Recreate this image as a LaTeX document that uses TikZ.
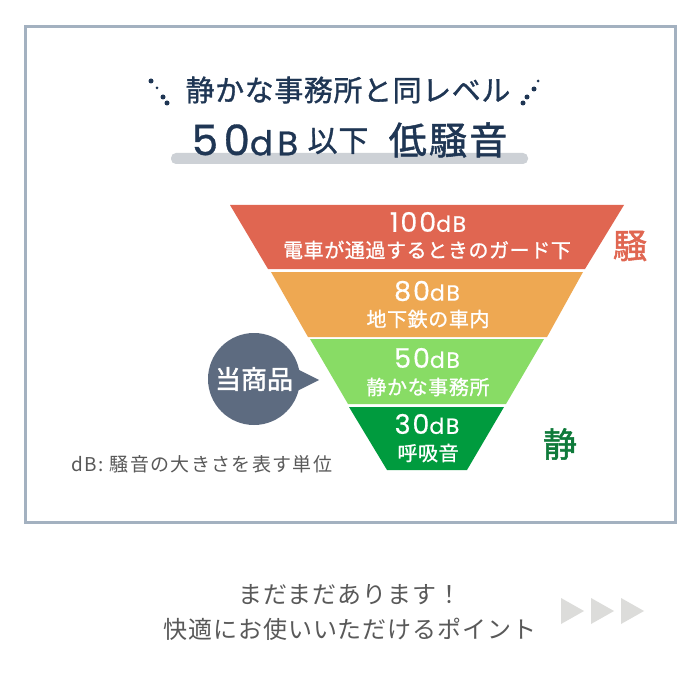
\documentclass[tikz,border=0pt]{standalone}
\usepackage{fontspec}
\setmainfont{Noto Sans CJK JP}
\newfontfamily\latinfont[LetterSpace=7,FakeBold=0.5]{Poppins}
\newfontfamily\levelfont[LetterSpace=13,FakeBold=0.8]{Poppins}
\newfontfamily\titlefont[LetterSpace=2,FakeBold=1.1]{Noto Sans CJK JP}
\newfontfamily\headfont[LetterSpace=6,FakeBold=1.4]{Noto Sans CJK JP}
\newfontfamily\labelfont[LetterSpace=3,FakeBold=1]{Noto Sans CJK JP}
\newfontfamily\heavyfont[FakeBold=1.6]{Noto Sans CJK JP}
\newfontfamily\plainfont[LetterSpace=4]{Noto Sans CJK JP}
\newfontfamily\unitfont[LetterSpace=7]{Noto Sans CJK JP}
\usetikzlibrary{positioning}
\definecolor{navy}{HTML}{1F3654}
\definecolor{framecol}{HTML}{A3B1C0}
\definecolor{barcol}{HTML}{CDD1D6}
\definecolor{redband}{HTML}{E06651}
\definecolor{orangeband}{HTML}{EEA852}
\definecolor{lightband}{HTML}{88DC65}
\definecolor{darkband}{HTML}{009B3E}
\definecolor{bubblecol}{HTML}{5D6B80}
\definecolor{greytext}{HTML}{595959}
\definecolor{arrowcol}{HTML}{DCDCDA}
\definecolor{darkgreen}{HTML}{0F7A3A}
\newcommand{\dbval}[1]{{\latinfont\fontsize{27}{27}\selectfont #1\fontsize{22}{22}\selectfont dB}}

\begin{document}
\begin{tikzpicture}[x=1pt, y=-1pt,
    fs/.style = {font=\fontsize{#1}{#1}\selectfont},
    band/.style = {inner sep=0pt, text=white},
    head/.style = {inner sep=0pt, text=navy},
    dot/.style = {circle, fill=navy, inner sep=0pt, minimum size=#1},
    tri/.style = {fill=arrowcol}]
    \useasboundingbox (0,0) rectangle (700,700);
    \fill[white] (0,0) rectangle (700,700);

    % Cadre
    \draw[framecol, line width=3pt] (25,27) rectangle (675,522);

    % Titre
    \fill[barcol, rounded corners=5pt] (171,153) rectangle (528,164);
    \node[fs=29, head] (title) at (348,90) {\titlefont 静かな事務所と同レベル};
    \node[head] (level) at (245,140) {\levelfont\fontsize{42}{42}\selectfont 50\fontsize{34}{34}\selectfont dB};
    \node[fs=30, head] (under) at (338,141) {\labelfont 以下};
    \node[fs=38, head] (noise) at (448,140) {\headfont 低騒音};

    % Points
    \node[dot=5pt] (a1) at (151,81) {};
    \node[dot=3pt] (a2) at (157,88) {};
    \node[dot=5pt] (a3) at (163,97) {};
    \node[dot=5pt] (a4) at (167,103) {};
    \node[dot=5pt] (b1) at (523,103) {};
    \node[dot=5pt] (b2) at (527,97) {};
    \node[dot=5pt] (b3) at (534,89) {};
    \node[dot=3pt] (b4) at (538,81) {};

    % Bandes
    \fill[redband] (230,205) -- (624,205) -- (585,269) -- (268,269) -- cycle;
    \fill[orangeband] (271,272) -- (583,272) -- (547,337) -- (308,337) -- cycle;
    \fill[lightband] (310,339) -- (544,339) -- (506,404) -- (348,404) -- cycle;
    \fill[darkband] (349,407) -- (504,407) -- (467,470) -- (387,470) -- cycle;

    \node[band] (db100) at (428,222) {\dbval{100}};
    \node[band, fs=20] (lab100) at (427,250) {\labelfont 電車が通過するときのガード下};
    \node[band] (db80) at (427,291) {\dbval{80}};
    \node[band, fs=20] (lab80) at (428,319) {\labelfont 地下鉄の車内};
    \node[band] (db50) at (427,358) {\dbval{50}};
    \node[band, fs=20] (lab50) at (428,387) {\labelfont 静かな事務所};
    \node[band] (db30) at (427,424) {\dbval{30}};
    \node[band, fs=20] (lab30) at (428,453) {\labelfont 呼吸音};

    % Bulle
    \fill[bubblecol] (254,379) circle (46);
    \fill[bubblecol] (295,368) -- (319,380) -- (295,392) -- cycle;
    \node[fs=26, text=white, inner sep=0pt] (product) at (254,379) {\heavyfont 当商品};

    % Textes
    \node[fs=34, text=redband, inner sep=0pt] (loud) at (630,246) {\heavyfont 騒};
    \node[fs=34, text=darkgreen, inner sep=0pt] (quiet) at (560,444) {\heavyfont 静};
    \node[fs=19, text=greytext, inner sep=0pt] (unit) at (202,464) {\unitfont dB:\hspace{6pt}騒音の大きさを表す単位};
    \node[fs=24, text=greytext, inner sep=0pt] (more) at (350,595) {\plainfont まだまだあります！};
    \node[fs=24, text=greytext, inner sep=0pt] (point) at (350,629) {\plainfont 快適にお使いいただけるポイント};

    % Fleches
    \fill[tri] (561,598) -- (584,611) -- (561,624) -- cycle;
    \fill[tri] (591,598) -- (614,611) -- (591,624) -- cycle;
    \fill[tri] (621,598) -- (644,611) -- (621,624) -- cycle;
\end{tikzpicture}
\end{document}
